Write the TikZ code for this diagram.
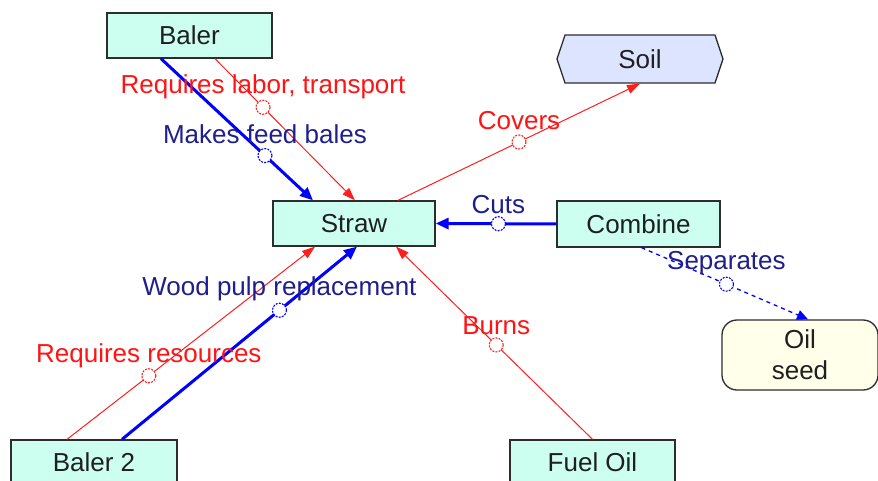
\documentclass[tikz,border=0pt]{standalone}
\usepackage{fontspec}
\setmainfont{Liberation Sans}
\usetikzlibrary{arrows.meta,shapes.symbols}
\definecolor{boxfill}{RGB}{204,255,240}
\definecolor{soilfill}{RGB}{221,228,255}
\definecolor{seedfill}{RGB}{255,255,234}
\definecolor{boxline}{RGB}{45,45,45}
\definecolor{linkblue}{RGB}{0,0,255}
\definecolor{linkred}{RGB}{255,30,30}
\definecolor{labelblue}{RGB}{30,30,140}
\definecolor{labelred}{RGB}{255,20,20}
\begin{document}
\begin{tikzpicture}[x=1pt,y=-1pt,
  every node/.style={font=\fontsize{26}{31}\selectfont},
  entity/.style={draw=boxline, line width=1.3pt, fill=boxfill,
    minimum width=165pt, minimum height=45pt, inner sep=0pt, text=black!88},
  strong/.style={draw=linkblue, line width=3pt,
    -{Triangle[length=13pt,width=11pt]}},
  weak/.style={draw=linkred, line width=1pt,
    -{Triangle[length=13pt,width=9pt]}},
  weakdash/.style={draw=linkblue, line width=1.3pt, dash pattern=on 4pt off 4pt,
    -{Triangle[length=11pt,width=10pt]}},
  knob/.style={circle, draw=#1, fill=white, line width=1.1pt,
    dash pattern=on 2pt off 1.2pt, minimum size=14pt, inner sep=0pt},
  lblblue/.style={text=labelblue},
  lblred/.style={text=labelred},
]
\useasboundingbox (0,0) rectangle (878,481);
\clip (0,0) rectangle (878,481);

% entities
\node[entity] (baler) at (189.5,35.5) {Baler};
\node[entity, minimum width=162pt] (straw) at (354,223.5) {Straw};
\node[entity, minimum width=163pt, minimum height=46pt] (combine) at (638.5,224) {Combine};
\node[entity, minimum width=166pt] (baler2) at (94,462.5) {Baler 2};
\node[entity] (fueloil) at (592.5,462.5) {Fuel Oil};
\node[draw=boxline, line width=1.3pt, fill=soilfill, shape=signal,
  signal to=east and west, signal pointer angle=143,
  minimum width=166pt, minimum height=48pt, inner sep=0pt, text=black!88]
  (soil) at (640,59) {Soil};
\node[draw=boxline, line width=1.3pt, fill=seedfill, rounded corners=15pt,
  minimum width=156pt, minimum height=70pt, inner sep=0pt, align=center,
  text=black!88, font=\fontsize{26}{31}\selectfont]
  (oilseed) at (800,355) {Oil\\seed};

% connectors
\draw[weak] ([xshift=25.5pt]baler.south) --
  node[pos=0.343, knob=linkred] (k1) {} ([xshift=1pt]straw.north);
\draw[strong] ([xshift=-28.5pt]baler.south) --
  node[pos=0.684, knob=linkblue] (k2) {} ([xshift=-41pt]straw.north);
\draw[weak] ([xshift=44pt]straw.north) --
  node[pos=0.5, knob=linkred] (k3) {} (soil.south);
\draw[strong] (combine.west) --
  node[pos=0.48, knob=linkblue] (k4) {} (straw.east);
\draw[weakdash] ([xshift=3pt]combine.south) --
  node[pos=0.51, knob=linkblue] (k5) {} ([xshift=8pt]oilseed.north);
\draw[weak] ([xshift=-27pt]baler2.north) --
  node[pos=0.33, knob=linkred] (k6) {} ([xshift=-39pt]straw.south);
\draw[strong] ([xshift=28pt]baler2.north) --
  node[pos=0.67, knob=linkblue] (k7) {} ([xshift=3pt]straw.south);
\draw[weak] (fueloil.north) --
  node[pos=0.49, knob=linkred] (k8) {} ([xshift=42pt]straw.south);

% connector labels
\node[lblred] at ([yshift=20pt]k1) {Requires labor, transport};
\node[lblblue] at ([yshift=21pt]k2) {Makes feed bales};
\node[lblred] at ([yshift=21pt]k3) {Covers};
\node[lblblue] at ([yshift=19pt]k4) {Cuts};
\node[lblblue] at ([yshift=21pt]k5) {Separates};
\node[lblred] at ([yshift=20pt]k6) {Requires resources};
\node[lblblue] at ([yshift=21pt]k7) {Wood pulp replacement};
\node[lblred] at ([yshift=19pt]k8) {Burns};
\end{tikzpicture}
\end{document}
